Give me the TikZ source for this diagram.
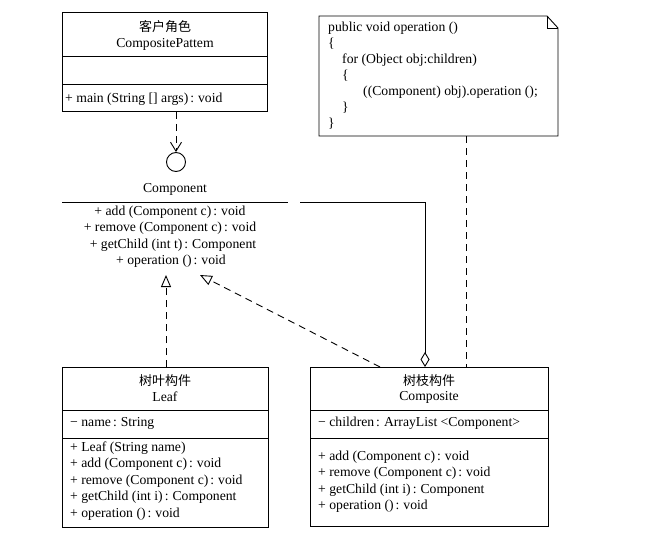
\documentclass[tikz,border=0pt]{standalone}
\usepackage{fontspec}
\setmainfont{Liberation Serif}
\newfontfamily\cjk{Noto Sans CJK SC}
\usetikzlibrary{arrows.meta}
\newcommand\cln{\kern2pt:\kern4pt}
\tikzset{
  umlbox/.style={draw, line width=0.9pt, inner sep=0pt, anchor=north west},
  txt/.style={font=\fontsize{13.7}{15}\selectfont, inner sep=0pt},
  ltxt/.style={txt, anchor=west},
  ctxt/.style={txt, anchor=center},
  conn/.style={line width=0.9pt},
  dashline/.style={conn, dash pattern=on 7pt off 5pt},
}
\begin{document}
\begin{tikzpicture}[x=1pt,y=-1pt]
\useasboundingbox (0,0) rectangle (664,535);
% client box
\node[umlbox, minimum width=205pt, minimum height=99pt] (client) at (62,12) {};
\draw[conn] (62,56) -- (267,56) (62,84) -- (267,84);
\node[ctxt] (clientcn) at (165,27) {\cjk\fontsize{13}{15}\selectfont 客户角色};
\node[ctxt] (clientn) at (165,44) {CompositePattem};
\node[ltxt] (clientm) at (65,99) {+ main (String [] args)\cln void};
% interface
\node[draw, circle, line width=0.9pt, minimum size=19pt, inner sep=0pt] (iface) at (176,162) {};
\node[ctxt] (compn) at (175,189) {Component};
\draw[conn] (62,202) -- (288,202);
\node[ctxt] (c1) at (170,212) {+ add (Component c)\cln void};
\node[ctxt] (c2) at (170,228.5) {+ remove (Component c)\cln void};
\node[ctxt] (c3) at (173,245) {+ getChild (int t)\cln Component};
\node[ctxt] (c4) at (171,261.5) {+ operation ()\cln void};
% note
\draw[conn] (319,16) -- (547,16) -- (558,28) -- (558,136) -- (319,136) -- cycle;
\draw[conn] (547,16) -- (547,28) -- (558,28);
\coordinate (note) at (466,136);
\node[ltxt] (n1) at (328,28) {public void operation ()};
\node[ltxt] (n2) at (328,44) {\{};
\node[ltxt] (n3) at (342,60) {for (Object obj:children)};
\node[ltxt] (n4) at (342,76) {\{};
\node[ltxt] (n5) at (363,92) {((Component) obj).operation ();};
\node[ltxt] (n6) at (342,108) {\}};
\node[ltxt] (n7) at (328,124) {\}};
% leaf box
\node[umlbox, minimum width=206pt, minimum height=160pt] (leaf) at (62,367) {};
\draw[conn] (62,410) -- (268,410) (62,438) -- (268,438);
\node[ctxt] (leafcn) at (165,381) {\cjk\fontsize{13}{15}\selectfont 树叶构件};
\node[ctxt] (leafn) at (165,397) {Leaf};
\node[ltxt] (leafa) at (70,423) {− name\cln String};
\node[ltxt] (l1) at (70,448) {+ Leaf (String name)};
\node[ltxt] (l2) at (70,464.5) {+ add (Component c)\cln void};
\node[ltxt] (l3) at (70,481) {+ remove (Component c)\cln void};
\node[ltxt] (l4) at (70,497.5) {+ getChild (int i)\cln Component};
\node[ltxt] (l5) at (70,514) {+ operation ()\cln void};
% composite box
\node[umlbox, minimum width=238pt, minimum height=159pt] (comp) at (310,367) {};
\draw[conn] (310,410) -- (548,410) (310,438) -- (548,438);
\node[ctxt] (compcn) at (429,381) {\cjk\fontsize{13}{15}\selectfont 树枝构件};
\node[ctxt] (compnn) at (429,397) {Composite};
\node[ltxt] (compa) at (318,423) {− children\cln ArrayList <Component>};
\node[ltxt] (p1) at (318,457) {+ add (Component c)\cln void};
\node[ltxt] (p2) at (318,473.5) {+ remove (Component c)\cln void};
\node[ltxt] (p3) at (318,490) {+ getChild (int i)\cln Component};
\node[ltxt] (p4) at (318,506.5) {+ operation ()\cln void};
% connectors
\coordinate (leaftip) at (166,275);
\coordinate (comptip) at (200,275);
\coordinate (compfrom) at (380,367);
\coordinate (aggfrom) at (425,367);
\coordinate (aggend) at (300,202);
\coordinate (notein) at (466,367);
\draw[dashline, -{Straight Barb[length=9pt,width=11pt,line width=0.9pt]}] (client.south -| iface) -- (iface.north);
\draw[dashline, -{Triangle[open,length=12pt,width=10pt,line width=0.9pt]}] (leaf.north -| leaftip) -- (leaftip);
\draw[dashline, -{Triangle[open,length=12pt,width=10pt,line width=0.9pt]}] (compfrom) -- (comptip);
\draw[conn, {Diamond[open,length=15pt,width=9pt,line width=0.9pt]}-] (aggfrom) |- (aggend);
\draw[dashline] (note) -- (notein);
\end{tikzpicture}
\end{document}
